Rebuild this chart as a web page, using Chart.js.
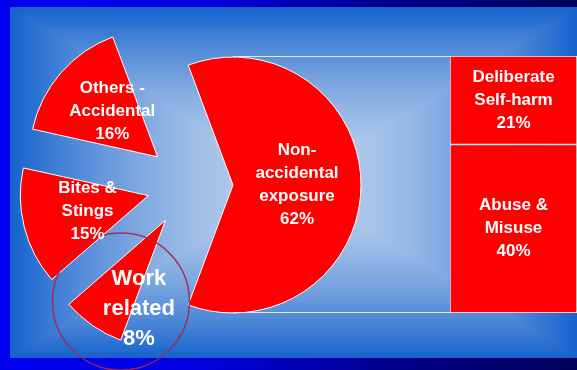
<!DOCTYPE html>
<html>
<head>
<meta charset="utf-8">
<script src="https://cdn.jsdelivr.net/npm/chart.js@4"></script>
<style>
html,body{margin:0;padding:0;overflow:hidden;}
body{width:577px;height:370px;position:relative;
 background:linear-gradient(to right,#0000f0 0%,#0000e0 35%,#000090 66%,#000058 100%);}
canvas{position:absolute;left:0;top:0;}
#bg{left:10px;top:7px;}
</style>
</head>
<body>
<canvas id="bg" width="567" height="351"></canvas>
<canvas id="pie" width="577" height="370"></canvas>
<canvas id="bar" width="577" height="370"></canvas>
<script>
// pie part (clockwise from the big slice)
const pieLabels=['Non-accidental exposure','Work related','Bites & Stings','Others - Accidental'];
const pieValues=[62,8,15,16];
const pieText=[['Non-','accidental','exposure'],['Work','related'],['Bites &','Stings'],['Others -','Accidental']];

// bar part (bottom to top)
const barLabels=['Abuse & Misuse','Deliberate Self-harm'];
const barValues=[40,21];
const barText=[['Abuse &','Misuse'],['Deliberate','Self-harm']];

// label placement per slice
const labelDist=[0.5,0.72,0.49,0.5];
const labelTurn=[0,-18,0,4];
const labelSize=[17,22,17,17];

const RED='#ff0000';
const FONT='"Liberation Sans", Arial, sans-serif';

// background: rectangular gradient, light in the middle
(function(){
 const bg=document.getElementById('bg');
 const c=bg.getContext('2d');
 const w=bg.width,h=bg.height;
 const img=c.createImageData(w,h);
 const cx=w/2,cy=h/2;
 const inner=[185,207,236],outer=[20,98,205];
 for(let y=0;y<h;y++){
  for(let x=0;x<w;x++){
   let t=Math.max(Math.abs(x-cx)/cx,Math.abs(y-cy)/cy);
   let f=Math.pow(t,1.7);
   let i=(y*w+x)*4;
   img.data[i]=inner[0]+(outer[0]-inner[0])*f;
   img.data[i+1]=inner[1]+(outer[1]-inner[1])*f;
   img.data[i+2]=inner[2]+(outer[2]-inner[2])*f;
   img.data[i+3]=255;
  }
 }
 c.putImageData(img,0,0);
})();

function drawLines(ctx,lines,x,y,size,lh){
 ctx.save();
 ctx.fillStyle='#fff';
 ctx.font='bold '+size+'px '+FONT;
 ctx.textAlign='center';
 ctx.textBaseline='middle';
 let y0=y-(lines.length-1)/2*lh;
 lines.forEach((s,i)=>ctx.fillText(s,x,y0+i*lh));
 ctx.restore();
}

// pull every slice out from the centre
const explode={
 id:'explode',
 afterDatasetUpdate(chart){
  const d=43;
  chart.getDatasetMeta(0).data.forEach(a=>{
   const mid=(a.startAngle+a.endAngle)/2;
   a.x+=Math.cos(mid)*d;
   a.y+=Math.sin(mid)*d;
  });
 }
};

const pieLabelsPlugin={
 id:'pieText',
 afterDatasetsDraw(chart){
  const ctx=chart.ctx;
  chart.getDatasetMeta(0).data.forEach((a,i)=>{
   const ang=(a.startAngle+a.endAngle)/2+labelTurn[i]*Math.PI/180;
   const r=a.outerRadius*labelDist[i];
   const x=a.x+Math.cos(ang)*r,y=a.y+Math.sin(ang)*r;
   const size=labelSize[i];
   drawLines(ctx,[...pieText[i],pieValues[i]+'%'],x,y,size,size*1.36);
   if(i===1){
    ctx.save();
    ctx.strokeStyle='rgba(165,40,75,0.9)';
    ctx.lineWidth=1.5;
    ctx.beginPath();
    ctx.arc(x-18,y-7,68.5,0,Math.PI*2);
    ctx.stroke();
    ctx.restore();
   }
  });
 }
};

const total=pieValues.reduce((s,v)=>s+v,0);
const pieChart=new Chart(document.getElementById('pie'),{
 type:'pie',
 data:{labels:pieLabels,datasets:[{data:pieValues,backgroundColor:RED,borderColor:'#fff',borderWidth:1}]},
 options:{
  responsive:false,animation:false,
  rotation:90-pieValues[0]/total*180,
  radius:128,
  layout:{padding:{left:0,top:0,bottom:0,right:197}},
  plugins:{legend:{display:false},tooltip:{enabled:false}},
  events:[]
 },
 plugins:[explode,pieLabelsPlugin]
});

const barPlugin={
 id:'barText',
 beforeDatasetsDraw(chart){
  // connector lines from the big slice to the bar
  const ctx=chart.ctx;
  const arc=pieChart.getDatasetMeta(0).data[0];
  const a=chart.chartArea;
  ctx.save();
  ctx.strokeStyle='#dde6f4';
  ctx.lineWidth=1;
  ctx.beginPath();
  ctx.moveTo(arc.x,a.top+0.5);ctx.lineTo(a.left,a.top+0.5);
  ctx.moveTo(arc.x,a.bottom-0.5);ctx.lineTo(a.left,a.bottom-0.5);
  ctx.stroke();
  ctx.restore();
 },
 afterDatasetsDraw(chart){
  chart.data.datasets.forEach((ds,i)=>{
   const b=chart.getDatasetMeta(i).data[0];
   const y=(b.y+b.base)/2;
   drawLines(chart.ctx,[...barText[i],barValues[i]+'%'],b.x,y,17,23);
  });
 }
};

new Chart(document.getElementById('bar'),{
 type:'bar',
 data:{labels:[''],datasets:barLabels.map((l,i)=>({
  label:l,data:[barValues[i]],backgroundColor:RED,borderColor:'#fff',borderWidth:1,borderSkipped:false,
  barPercentage:1,categoryPercentage:1
 }))},
 options:{
  responsive:false,animation:false,
  layout:{padding:{left:450,top:56,right:0,bottom:57}},
  scales:{
   x:{stacked:true,display:false},
   y:{stacked:true,display:false,min:0,max:barValues.reduce((s,v)=>s+v,0)}
  },
  plugins:{legend:{display:false},tooltip:{enabled:false}},
  events:[]
 },
 plugins:[barPlugin]
});
</script>
</body>
</html>
